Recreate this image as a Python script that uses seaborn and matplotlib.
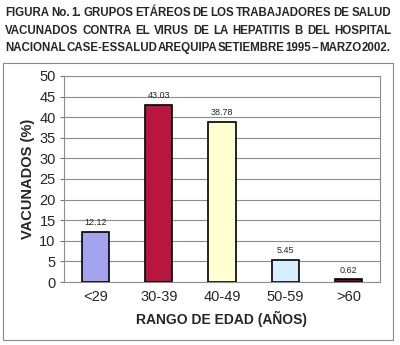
import pandas as pd
import seaborn as sns
import matplotlib.pyplot as plt
from matplotlib.patches import Rectangle

categories = ["<29", "30-39", "40-49", "50-59", ">60"]
values = [12.12, 43.03, 38.78, 5.45, 0.62]
colors = ["#A3A3EE", "#B8163E", "#FFFFD2", "#D6EEFF", "#6E1020"]
title_lines = [
    "FIGURA No. 1. GRUPOS ETÁREOS DE LOS TRABAJADORES DE SALUD",
    "VACUNADOS CONTRA EL VIRUS DE LA HEPATITIS B DEL HOSPITAL",
    "NACIONAL CASE-ESSALUD AREQUIPA SETIEMBRE 1995 – MARZO 2002.",
]

df = pd.DataFrame({"rango": categories, "pct": values})

sns.set_style("white")
plt.rcParams["font.family"] = ["Liberation Sans", "DejaVu Sans"]

fig = plt.figure(figsize=(4, 3.45), dpi=100)
ax = fig.add_axes([64 / 400, 1 - 282 / 345, 316 / 400, 206 / 345])

sns.barplot(data=df, x="rango", y="pct", hue="rango", palette=colors,
            legend=False, width=0.43, edgecolor="black", linewidth=1.2,
            saturation=1, ax=ax, zorder=3)

for i, v in enumerate(values):
    ax.text(i, v + 1.2, f"{v:.2f}", ha="center", va="bottom", fontsize=6.5)

ax.set_ylim(0, 50)
ax.set_yticks(range(0, 51, 5))
ax.set_xlim(-0.5, 4.5)
ax.yaxis.grid(True, color="#8c8c8c", linewidth=0.8, zorder=0)
ax.tick_params(axis="y", labelsize=10.5, length=3, width=0.8,
               color="#777777", pad=3, left=True)
ax.tick_params(axis="x", labelsize=10.5, length=0, pad=6)
for s in ax.spines.values():
    s.set_color("#8c8c8c")
    s.set_linewidth(0.8)
ax.set_xlabel("RANGO DE EDAD (AÑOS)", fontsize=10, fontweight="bold", labelpad=5)
ax.set_ylabel("VACUNADOS (%)", fontsize=10.5, fontweight="bold", labelpad=3)

# outer frame
fig.patches.append(Rectangle((3 / 400, 5 / 345), 390 / 400, 277 / 345,
                             transform=fig.transFigure, fill=False,
                             edgecolor="#888888", linewidth=0.8))

# justified title, word by word
x0, x1 = 5, 391
renderer = fig.canvas.get_renderer()
for k, line in enumerate(title_lines):
    y = 1 - (13 + 17.5 * k) / 345
    words = line.split(" ")
    texts = [fig.text(0, y, w, fontsize=8.3, fontweight="bold",
                      ha="left", va="center") for w in words]
    widths = [t.get_window_extent(renderer).width for t in texts]
    gap = (x1 - x0 - sum(widths)) / (len(words) - 1)
    x = x0
    for t, w in zip(texts, widths):
        t.set_x(x / 400)
        x += w + gap

fig.savefig("out.png", dpi=100)
